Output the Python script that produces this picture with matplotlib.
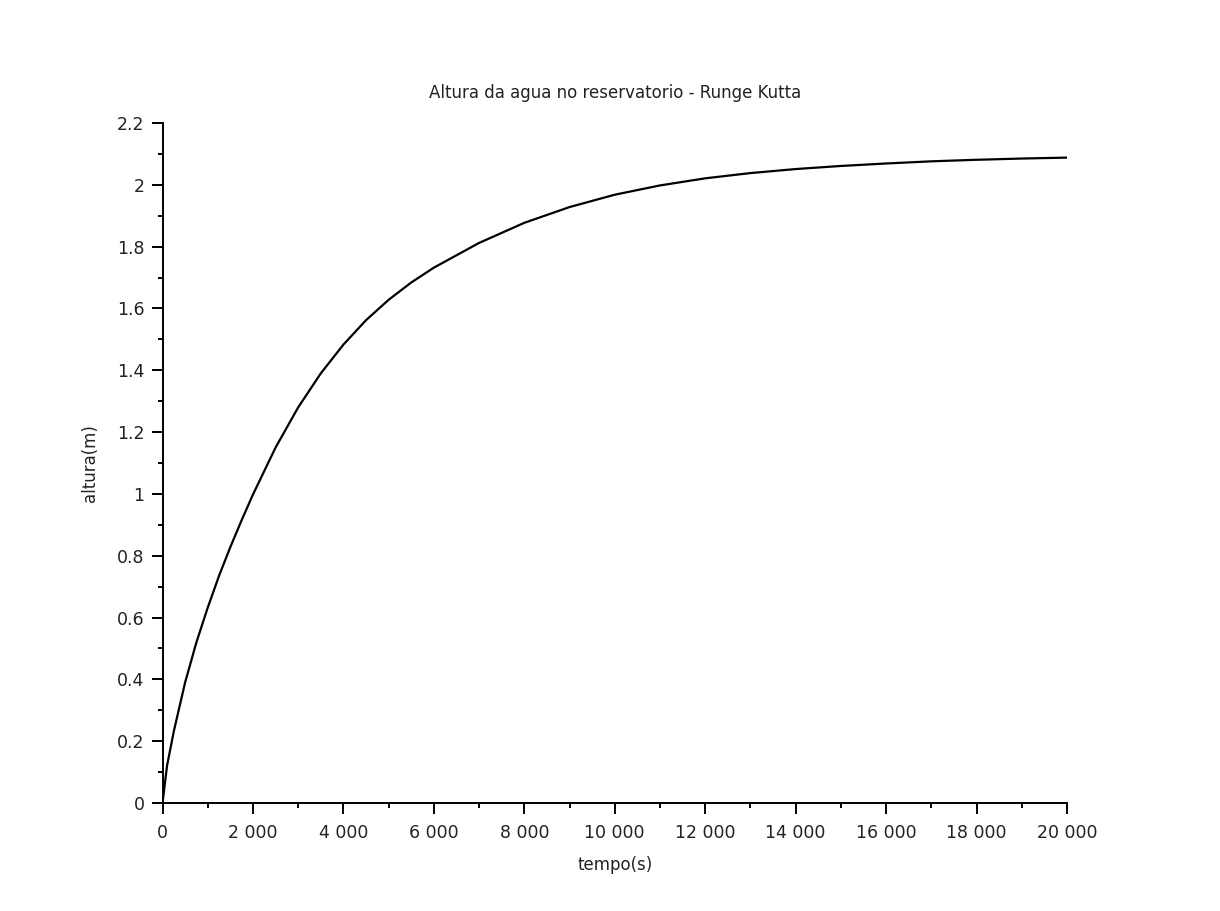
import numpy as np
import matplotlib
matplotlib.use("Agg")
import matplotlib.pyplot as plt
from matplotlib.ticker import MultipleLocator, FuncFormatter

# valores (tempo em s, altura em m)
tempo = [0, 100, 250, 500, 750, 1000, 1250, 1500, 1750, 2000, 2500, 3000,
         3500, 4000, 4500, 5000, 5500, 6000, 7000, 8000, 9000, 10000,
         11000, 12000, 13000, 14000, 15000, 16000, 17000, 18000, 19000, 20000]
altura = [0.0, 0.12, 0.232, 0.39, 0.52, 0.632, 0.735, 0.828, 0.915, 0.998,
          1.15, 1.28, 1.39, 1.483, 1.562, 1.628, 1.684, 1.732, 1.812, 1.877,
          1.928, 1.968, 1.998, 2.021, 2.038, 2.051, 2.061, 2.069, 2.076,
          2.081, 2.085, 2.088]

titulo = "Altura da agua no reservatorio - Runge Kutta"

plt.rcParams['font.family'] = ['DejaVu Sans']

fig = plt.figure(figsize=(12.2, 9.11), dpi=100)
ax = fig.add_axes([162.5 / 1220, 1 - 803 / 911, (1067 - 162.5) / 1220, (803 - 123) / 911])

ax.plot(tempo, altura, color='black', lw=1.6, solid_joinstyle='round')

ax.set_xlim(0, 20000)
ax.set_ylim(0, 2.2)
ax.xaxis.set_major_locator(MultipleLocator(2000))
ax.xaxis.set_minor_locator(MultipleLocator(1000))
ax.yaxis.set_major_locator(MultipleLocator(0.2))
ax.yaxis.set_minor_locator(MultipleLocator(0.1))
ax.xaxis.set_major_formatter(FuncFormatter(lambda v, p: f"{int(round(v)):,}".replace(",", " ")))
ax.yaxis.set_major_formatter(FuncFormatter(lambda v, p: f"{v:.1f}".rstrip('0').rstrip('.') if v != 0 else "0"))

for s in ['top', 'right']:
    ax.spines[s].set_visible(False)
for s in ['left', 'bottom']:
    ax.spines[s].set_linewidth(1.4)
    ax.spines[s].set_color('black')

ax.tick_params(axis='x', which='major', pad=7)
ax.tick_params(axis='y', which='major', pad=5)
ax.tick_params(axis='both', which='major', direction='out', length=8, width=1.4,
               labelsize=12.5, colors='black', labelcolor='#222222')
ax.tick_params(axis='both', which='minor', direction='out', length=3.5, width=1.4, colors='black')

ax.set_title(titulo, fontsize=12, color='#222222', pad=18)
ax.set_xlabel("tempo(s)", fontsize=12, color='#222222', labelpad=10)
ax.set_ylabel("altura(m)", fontsize=12, color='#222222', labelpad=13)

fig.savefig("out.png", dpi=100, facecolor='white')
